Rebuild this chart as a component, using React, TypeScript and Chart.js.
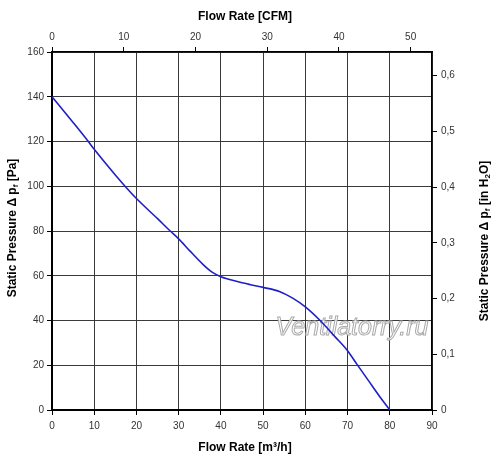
// App.tsx
import React, { useRef, useEffect } from 'react';
import { Chart, registerables } from 'chart.js';

Chart.register(...registerables);

// fan curve, flow in m³/h against static pressure in Pa
const flowM3h = [0, 5, 8.6, 10, 15, 17.3, 20, 25, 28, 30, 32.7, 35.8, 38, 40, 43.7, 47, 50, 54, 57, 60, 63.5, 67, 70, 72.2, 75, 78, 80];
const pressurePa = [140, 128.5, 120, 116.5, 105, 100, 94.5, 85.5, 80, 76.5, 71, 65, 61.5, 59.6, 57.5, 56, 54.8, 52.9, 50, 46.1, 40, 32.8, 26.5, 20.5, 13, 5, 0];

const M3H_PER_CFM = 1.69901;
const PA_PER_INH2O = 249.089;
const X_MAX = 90;
const Y_MAX = 160;

const topTitle = 'Flow Rate [CFM]';
const bottomTitle = 'Flow Rate [m³/h]';
const leftTitle = [{ t: 'Static Pressure Δ p' }, { t: 'f', sub: true }, { t: ' [Pa]' }];
const rightTitle = [{ t: 'Static Pressure Δ p' }, { t: 'f', sub: true }, { t: ' [in H' }, { t: '2', sub: true }, { t: 'O]' }];
const watermark = 'Ventilatorry.ru';

const FONT = '"Liberation Sans", Arial, sans-serif';

type Part = { t: string; sub?: boolean };

function drawParts(ctx: CanvasRenderingContext2D, parts: Part[], cx: number, cy: number, rot: number) {
    const main = `bold 12px ${FONT}`;
    const small = `bold 8px ${FONT}`;
    let total = 0;
    parts.forEach(p => {
        ctx.font = p.sub ? small : main;
        total += ctx.measureText(p.t).width;
    });
    ctx.save();
    ctx.translate(cx, cy);
    ctx.rotate(rot);
    ctx.fillStyle = '#000';
    ctx.textBaseline = 'middle';
    ctx.textAlign = 'left';
    let x = -total / 2;
    parts.forEach(p => {
        ctx.font = p.sub ? small : main;
        ctx.fillText(p.t, x, p.sub ? 3 : 0);
        x += ctx.measureText(p.t).width;
    });
    ctx.restore();
}

const decorations = {
    id: 'decorations',
    beforeDatasetsDraw(chart: any) {
        const ctx = chart.ctx as CanvasRenderingContext2D;
        ctx.save();
        ctx.font = `italic 25px ${FONT}`;
        ctx.textAlign = 'center';
        ctx.textBaseline = 'middle';
        ctx.fillStyle = 'rgba(255,255,255,0.85)';
        ctx.strokeStyle = '#aaa';
        ctx.lineWidth = 1;
        ctx.fillText(watermark, 352, 328);
        ctx.strokeText(watermark, 352, 328);
        ctx.restore();
    },
    afterDraw(chart: any) {
        const ctx = chart.ctx as CanvasRenderingContext2D;
        const a = chart.chartArea;
        const mid = (a.left + a.right) / 2;
        drawParts(ctx, [{ t: topTitle }], mid + 3, 17, 0);
        drawParts(ctx, [{ t: bottomTitle }], mid + 3, 448, 0);
        drawParts(ctx, leftTitle, 13, 228, -Math.PI / 2);
        drawParts(ctx, rightTitle, 485, 241, -Math.PI / 2);
    },
};

const App: React.FC = () => {
    const chartRef = useRef<HTMLCanvasElement>(null);

    useEffect(() => {
        if (!chartRef.current) return;

        const tickFont = { family: FONT, size: 10 };
        const gridColor = '#3a3a3a';

        const myChart = new Chart(chartRef.current, {
            type: 'line',
            data: {
                datasets: [{
                    data: flowM3h.map((x, i) => ({ x, y: pressurePa[i] })),
                    borderColor: '#1f1fc8',
                    borderWidth: 1.6,
                    pointRadius: 0,
                    cubicInterpolationMode: 'monotone',
                    fill: false,
                }]
            },
            options: {
                responsive: false,
                animation: false,
                layout: { padding: 0 },
                plugins: {
                    legend: { display: false },
                    tooltip: { enabled: false },
                },
                scales: {
                    x: {
                        type: 'linear',
                        position: 'bottom',
                        min: 0,
                        max: X_MAX,
                        ticks: { stepSize: 10, color: '#333', font: tickFont, padding: 5 },
                        grid: { color: gridColor, tickColor: '#000', tickLength: 5 },
                        border: { color: '#000', width: 2 },
                        afterFit: (s: any) => { s.height = 49; },
                    },
                    x2: {
                        type: 'linear',
                        position: 'top',
                        min: 0,
                        max: X_MAX / M3H_PER_CFM,
                        ticks: { stepSize: 10, includeBounds: false, color: '#333', font: tickFont, padding: 4 },
                        grid: { drawOnChartArea: false, tickColor: '#000', tickLength: 5 },
                        border: { color: '#000', width: 1.5 },
                        afterFit: (s: any) => { s.height = 52; },
                    },
                    y: {
                        type: 'linear',
                        position: 'left',
                        min: 0,
                        max: Y_MAX,
                        ticks: { stepSize: 20, color: '#333', font: tickFont, padding: 3 },
                        grid: { color: gridColor, tickColor: '#000', tickLength: 5 },
                        border: { color: '#000', width: 2 },
                        afterFit: (s: any) => { s.width = 52; },
                    },
                    y2: {
                        type: 'linear',
                        position: 'right',
                        min: 0,
                        max: Y_MAX / PA_PER_INH2O,
                        ticks: {
                            stepSize: 0.1,
                            includeBounds: false,
                            color: '#333',
                            font: tickFont,
                            padding: 4,
                            callback: (v: any) => (Number(v) === 0 ? '0' : Number(v).toFixed(1).replace('.', ',')),
                        },
                        grid: { drawOnChartArea: false, tickColor: '#000', tickLength: 5 },
                        border: { color: '#000', width: 1.5 },
                        afterFit: (s: any) => { s.width = 68; },
                    },
                }
            },
            plugins: [decorations],
        } as any);

        return () => {
            myChart.destroy(); // Clean up
        };
    }, []);

    return (
        <div style={{ position: 'fixed', left: 0, top: 0, width: 500, height: 459, background: '#fff' }}>
            <canvas ref={chartRef} width={500} height={459} style={{ display: 'block' }} />
        </div>
    );
};

export default App;
